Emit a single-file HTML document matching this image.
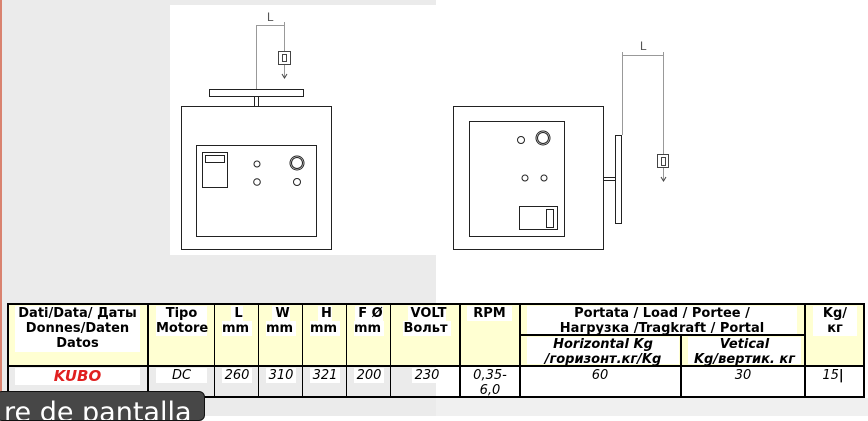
<!DOCTYPE html>
<html><head><meta charset="utf-8"><style>
body{margin:0;width:868px;height:416px;overflow:hidden;position:relative;font-family:"DejaVu Sans",sans-serif;background:#fff}
.a{position:absolute}
.c{position:absolute;text-align:center;font-size:13px;line-height:15px;font-weight:bold;color:#000;white-space:nowrap}
.c span{background:#fff;padding:0 3px}
.d{position:absolute;text-align:center;font-size:13px;line-height:15px;font-style:italic;color:#000}
.d span{background:#fff;padding:0 3px}
.v{position:absolute;width:2px;background:#000}
.h{position:absolute;height:2px;background:#000}
</style></head><body>
<div class="a" style="left:0;top:0;width:436px;height:416px;background:#ebebeb"></div>
<div class="a" style="left:436px;top:398px;width:432px;height:18px;background:#f0f0f0"></div>
<div class="a" style="left:0;top:0;width:2px;height:416px;background:#d9826f"></div>
<div class="a" style="left:170px;top:5px;width:267px;height:250px;background:#fff"></div>
<svg class="a" style="left:0;top:0" width="868" height="300" fill="none" stroke="#222">
<g stroke="#999" stroke-width="1"><line x1="256.5" y1="25" x2="256.5" y2="89"/><line x1="256" y1="25.5" x2="284" y2="25.5"/><line x1="284.5" y1="22" x2="284.5" y2="77"/>
<line x1="622.5" y1="52" x2="622.5" y2="135"/><line x1="622" y1="55.5" x2="663" y2="55.5"/><line x1="663.5" y1="52" x2="663.5" y2="180"/></g>
<text x="267" y="21" font-size="12" fill="#555" stroke="none" font-family="Liberation Sans">L</text>
<text x="640" y="50" font-size="12" fill="#555" stroke="none" font-family="Liberation Sans">L</text>
<rect x="278.5" y="51.5" width="12" height="13" fill="#fff" stroke="#444"/><rect x="282.5" y="54.5" width="4" height="7" stroke="#444"/>
<path d="M282 74l2.5 4 2.5-4" stroke="#444"/>
<rect x="657.5" y="154.5" width="11" height="13" fill="#fff" stroke="#444"/><rect x="661.5" y="157.5" width="4" height="8" stroke="#444"/>
<path d="M661 177l2.5 4 2.5-4" stroke="#444"/>
<rect x="209.5" y="89.5" width="94" height="7"/><rect x="254.5" y="96.5" width="4" height="10"/>
<rect x="181.5" y="106.5" width="150" height="143"/><rect x="196.5" y="145.5" width="120" height="91"/>
<rect x="202.5" y="152.5" width="25" height="35"/><rect x="205.5" y="155.5" width="19" height="7"/>
<circle cx="257" cy="164" r="3"/><circle cx="257" cy="182" r="3.3"/><circle cx="297" cy="182" r="3.5"/><circle cx="297" cy="163" r="7"/><circle cx="297" cy="163" r="5.5"/>
<rect x="453.5" y="106.5" width="150" height="143"/><rect x="469.5" y="121.5" width="95" height="115"/>
<circle cx="521" cy="140" r="3.5"/><circle cx="543" cy="138" r="7"/><circle cx="543" cy="138" r="5.5"/><circle cx="525" cy="178" r="3"/><circle cx="544" cy="178" r="3"/>
<rect x="519.5" y="206.5" width="38" height="23"/><rect x="546.5" y="209.5" width="7" height="18"/>
<rect x="603.5" y="177.5" width="12" height="3"/><rect x="615.5" y="135.5" width="6" height="88"/>
</svg>
<div class="a" style="left:8px;top:304px;width:856px;height:62px;background:#ffffd2"></div>
<div class="a" style="left:436px;top:366px;width:428px;height:31px;background:#fff"></div>
<div class="h" style="left:7px;top:303px;width:858px"></div>
<div class="h" style="left:7px;top:365px;width:858px"></div>
<div class="h" style="left:7px;top:396px;width:858px"></div>
<div class="h" style="left:520px;top:334px;width:285px"></div>
<div class="v" style="left:7px;top:303px;height:95px"></div>
<div class="v" style="left:147px;top:303px;height:95px"></div>
<div class="v" style="left:214px;top:303px;height:95px;width:1px"></div>
<div class="v" style="left:258px;top:303px;height:95px;width:1px"></div>
<div class="v" style="left:302px;top:303px;height:95px;width:1px"></div>
<div class="v" style="left:346px;top:303px;height:95px;width:1px"></div>
<div class="v" style="left:390px;top:303px;height:95px;width:1px"></div>
<div class="v" style="left:459px;top:303px;height:95px"></div>
<div class="v" style="left:519px;top:303px;height:95px"></div>
<div class="v" style="left:680px;top:334px;height:64px"></div>
<div class="v" style="left:804px;top:303px;height:95px"></div>
<div class="v" style="left:863px;top:303px;height:95px"></div>
<div class="c" style="left:15px;top:306px;width:125px;background:#fff;height:46px">Dati/Data/ Даты<br>Donnes/Daten<br>Datos</div>
<div class="c" style="left:156px;top:306px;width:51px;background:#fff">Tipo<br>Motore</div>
<div class="c" style="left:216px;top:306px;width:42px"><span>L<br>mm</span></div>
<div class="c" style="left:260px;top:306px;width:42px"><span>W<br>mm</span></div>
<div class="c" style="left:304px;top:306px;width:42px"><span>H<br>mm</span></div>
<div class="c" style="left:348px;top:306px;width:42px"><span>F Ø<br>mm</span></div>
<div class="c" style="left:397px;top:306px;width:60px"><span>VOLT<br>Вольт</span></div>
<div class="c" style="left:467px;top:306px;width:45px;background:#fff">RPM</div>
<div class="c" style="left:527px;top:306px;width:270px;background:#fff;height:28px">Portata / Load / Portee /<br>Нагрузка /Tragkraft / Portal</div>
<div class="c" style="left:527px;top:337px;width:152px;background:#fff;font-style:italic;height:27px">Horizontal Kg<br>/горизонт.кг/Kg</div>
<div class="c" style="left:688px;top:337px;width:113px;background:#fff;font-style:italic;height:27px">Vetical<br>Kg/вертик. кг</div>
<div class="c" style="left:813px;top:306px;width:44px;background:#fff">Kg/<br>кг</div>
<div class="c" style="left:15px;top:368px;width:125px;background:#fff;color:#e02020;font-style:italic;font-size:15px;line-height:17px">KUBO</div>
<div class="d" style="left:156px;top:368px;width:51px;background:#fff">DC</div>
<div class="d" style="left:216px;top:368px;width:42px"><span>260</span></div>
<div class="d" style="left:260px;top:368px;width:42px"><span>310</span></div>
<div class="d" style="left:304px;top:368px;width:42px"><span>321</span></div>
<div class="d" style="left:348px;top:368px;width:42px"><span>200</span></div>
<div class="d" style="left:397px;top:368px;width:60px"><span>230</span></div>
<div class="d" style="left:461px;top:368px;width:58px">0,35-<br>6,0</div>
<div class="d" style="left:522px;top:368px;width:156px">60</div>
<div class="d" style="left:683px;top:368px;width:120px">30</div>
<div class="d" style="left:811px;top:368px;width:44px">15<b style="font-style:normal">|</b></div>
<div class="a" style="left:-4px;top:391px;width:209px;height:30px;background:#474747;border:1px solid #111;border-radius:6px;overflow:hidden;box-sizing:border-box">
<div style="position:absolute;left:7px;top:6px;color:#fff;font-size:27px;line-height:30px;font-family:'DejaVu Sans',sans-serif;white-space:nowrap">re de pantalla</div></div>
</body></html>
